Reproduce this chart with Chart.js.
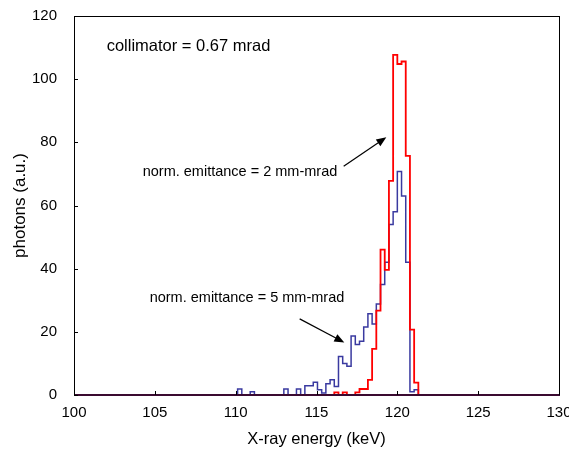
<!DOCTYPE html>
<html>
<head>
<meta charset="utf-8">
<script src="https://cdn.jsdelivr.net/npm/chart.js@4.4.1/dist/chart.umd.min.js"></script>
<style>
html,body{margin:0;padding:0;background:#fff;}
canvas{display:block;}
</style>
</head>
<body>
<canvas id="c" width="569" height="457"></canvas>
<script>
// ---- data ----
// left edges of the histogram bins (keV)
const binEdges = [110.12,110.38,110.64,110.90,111.16,111.42,111.68,111.94,112.20,112.46,112.72,
  112.98,113.24,113.50,113.76,114.02,114.28,114.54,114.80,115.06,115.32,115.58,115.84,116.10,
  116.36,116.62,116.88,117.14,117.40,117.66,117.92,118.18,118.44,118.70,118.96,119.22,119.48,
  119.74,120.00,120.26,120.52,120.78,121.04,121.30];
// norm. emittance = 5 mm-mrad (blue)
const emit5 = [1.9,0,0,1.0,0,0,0,0,0,0,0,
  1.9,0,0,1.9,0,2.9,2.9,4.0,1.7,0.6,3.6,4.8,2.7,
  12.2,10.0,9.1,18.7,16.0,17.0,21.5,25.7,22.5,28.8,35.0,42.0,54.0,
  58.0,70.8,63.0,42.0,1.0,1.7,0];
// norm. emittance = 2 mm-mrad (red)
const emit2 = [0,0,0,0,0,0,0,0,0,0,0,
  0,0,0,0,0,0,0,0,0,0,0,0,0.8,
  0,0.8,0,0,0.8,1.9,1.9,4.8,14.6,26.7,46.0,39.6,67.8,
  107.7,104.8,105.6,75.7,20.7,3.9,0];
const xRange = [100, 130];
const yRange = [0, 120];
const xTicks = [100,105,110,115,120,125,130];
const yTicks = [0,20,40,60,80,100,120];

function histPoints(vals){
  const pts = [{x:xRange[0], y:0}];
  binEdges.forEach((e,i)=>pts.push({x:e, y:vals[i]}));
  pts.push({x:xRange[1], y:0});
  return pts;
}

const FONT = "'Liberation Sans', Arial, Helvetica, sans-serif";

const notes = {
  texts: [
    {text:'collimator = 0.67 mrad', x:102.02, y:110.3, size:16.5},
    {text:'norm. emittance = 2 mm-mrad', x:104.25, y:70.5, size:14.5},
    {text:'norm. emittance = 5 mm-mrad', x:104.68, y:30.8, size:14.5}
  ],
  arrows: [
    {x1:116.68, y1:72.4, x2:119.32, y2:81.6},
    {x1:113.96, y1:24.1, x2:116.72, y2:16.6}
  ]
};

const framePlugin = {
  id:'frame',
  afterDatasetsDraw(chart){
    const {ctx, chartArea:a, scales:{x, y}} = chart;
    ctx.save();
    ctx.strokeStyle = '#000';
    ctx.lineWidth = 1;
    ctx.strokeRect(a.left+0.5, a.top+0.5, a.right-a.left, a.bottom-a.top);
    // baseline where both zero-level histograms overlap the axis
    ctx.strokeStyle = '#3a0a30';
    ctx.lineWidth = 2;
    ctx.beginPath();
    ctx.moveTo(a.left, a.bottom); ctx.lineTo(a.right+1, a.bottom);
    ctx.stroke();
    ctx.strokeStyle = '#000';
    ctx.lineWidth = 1;
    ctx.beginPath();
    xTicks.forEach(v=>{
      const px = Math.round(x.getPixelForValue(v))+0.5;
      ctx.moveTo(px, a.bottom); ctx.lineTo(px, a.bottom-4);
    });
    yTicks.forEach(v=>{
      const py = Math.round(y.getPixelForValue(v))+0.5;
      ctx.moveTo(a.left, py); ctx.lineTo(a.left+4, py);
    });
    ctx.stroke();
    // annotations
    ctx.fillStyle = '#000';
    ctx.textBaseline = 'middle';
    ctx.textAlign = 'left';
    notes.texts.forEach(t=>{
      ctx.font = t.size + 'px ' + FONT;
      ctx.fillText(t.text, x.getPixelForValue(t.x), y.getPixelForValue(t.y));
    });
    notes.arrows.forEach(ar=>{
      const x1 = x.getPixelForValue(ar.x1), y1 = y.getPixelForValue(ar.y1);
      const x2 = x.getPixelForValue(ar.x2), y2 = y.getPixelForValue(ar.y2);
      const ang = Math.atan2(y2-y1, x2-x1);
      const L = 10, W = 4;
      ctx.lineWidth = 1.2;
      ctx.beginPath();
      ctx.moveTo(x1,y1);
      ctx.lineTo(x2 - L*0.8*Math.cos(ang), y2 - L*0.8*Math.sin(ang));
      ctx.stroke();
      ctx.beginPath();
      ctx.moveTo(x2,y2);
      ctx.lineTo(x2 - L*Math.cos(ang) + W*Math.sin(ang), y2 - L*Math.sin(ang) - W*Math.cos(ang));
      ctx.lineTo(x2 - L*Math.cos(ang) - W*Math.sin(ang), y2 - L*Math.sin(ang) + W*Math.cos(ang));
      ctx.closePath();
      ctx.fill();
    });
    ctx.restore();
  }
};

new Chart(document.getElementById('c'), {
  type:'line',
  data:{
    datasets:[
      {label:'norm. emittance = 2 mm-mrad', data:histPoints(emit2), borderColor:'#ff0000', borderWidth:1.8,
       stepped:true, pointRadius:0, fill:false, tension:0},
      {label:'norm. emittance = 5 mm-mrad', data:histPoints(emit5), borderColor:'#3a3aa0', borderWidth:1.5,
       stepped:true, pointRadius:0, fill:false, tension:0}
    ]
  },
  options:{
    responsive:false,
    animation:false,
    layout:{padding:{left:0, right:10, top:16, bottom:0}},
    plugins:{legend:{display:false}, tooltip:{enabled:false}},
    scales:{
      x:{
        type:'linear', min:xRange[0], max:xRange[1],
        afterBuildTicks(s){ s.ticks = xTicks.map(v=>({value:v})); },
        afterFit(s){ s.height = 62; s.paddingLeft = 0; s.paddingRight = 0; },
        grid:{display:false, drawTicks:false},
        border:{display:false},
        ticks:{color:'#000', padding:9, maxRotation:0, autoSkip:false, font:{family:FONT, size:15}},
        title:{display:true, text:'X-ray energy (keV)', color:'#000', font:{family:FONT, size:16.5}, padding:{top:0, bottom:8}}
      },
      y:{
        type:'linear', min:yRange[0], max:yRange[1],
        afterBuildTicks(s){ s.ticks = yTicks.map(v=>({value:v})); },
        afterFit(s){ s.width = 74; s.paddingTop = 0; s.paddingBottom = 0; },
        grid:{display:false, drawTicks:false},
        border:{display:false},
        ticks:{color:'#000', padding:17, font:{family:FONT, size:15}},
        title:{display:true, text:'photons (a.u.)', color:'#000', font:{family:FONT, size:17}, padding:{top:10, bottom:0}}
      }
    }
  },
  plugins:[framePlugin]
});
</script>
</body>
</html>
